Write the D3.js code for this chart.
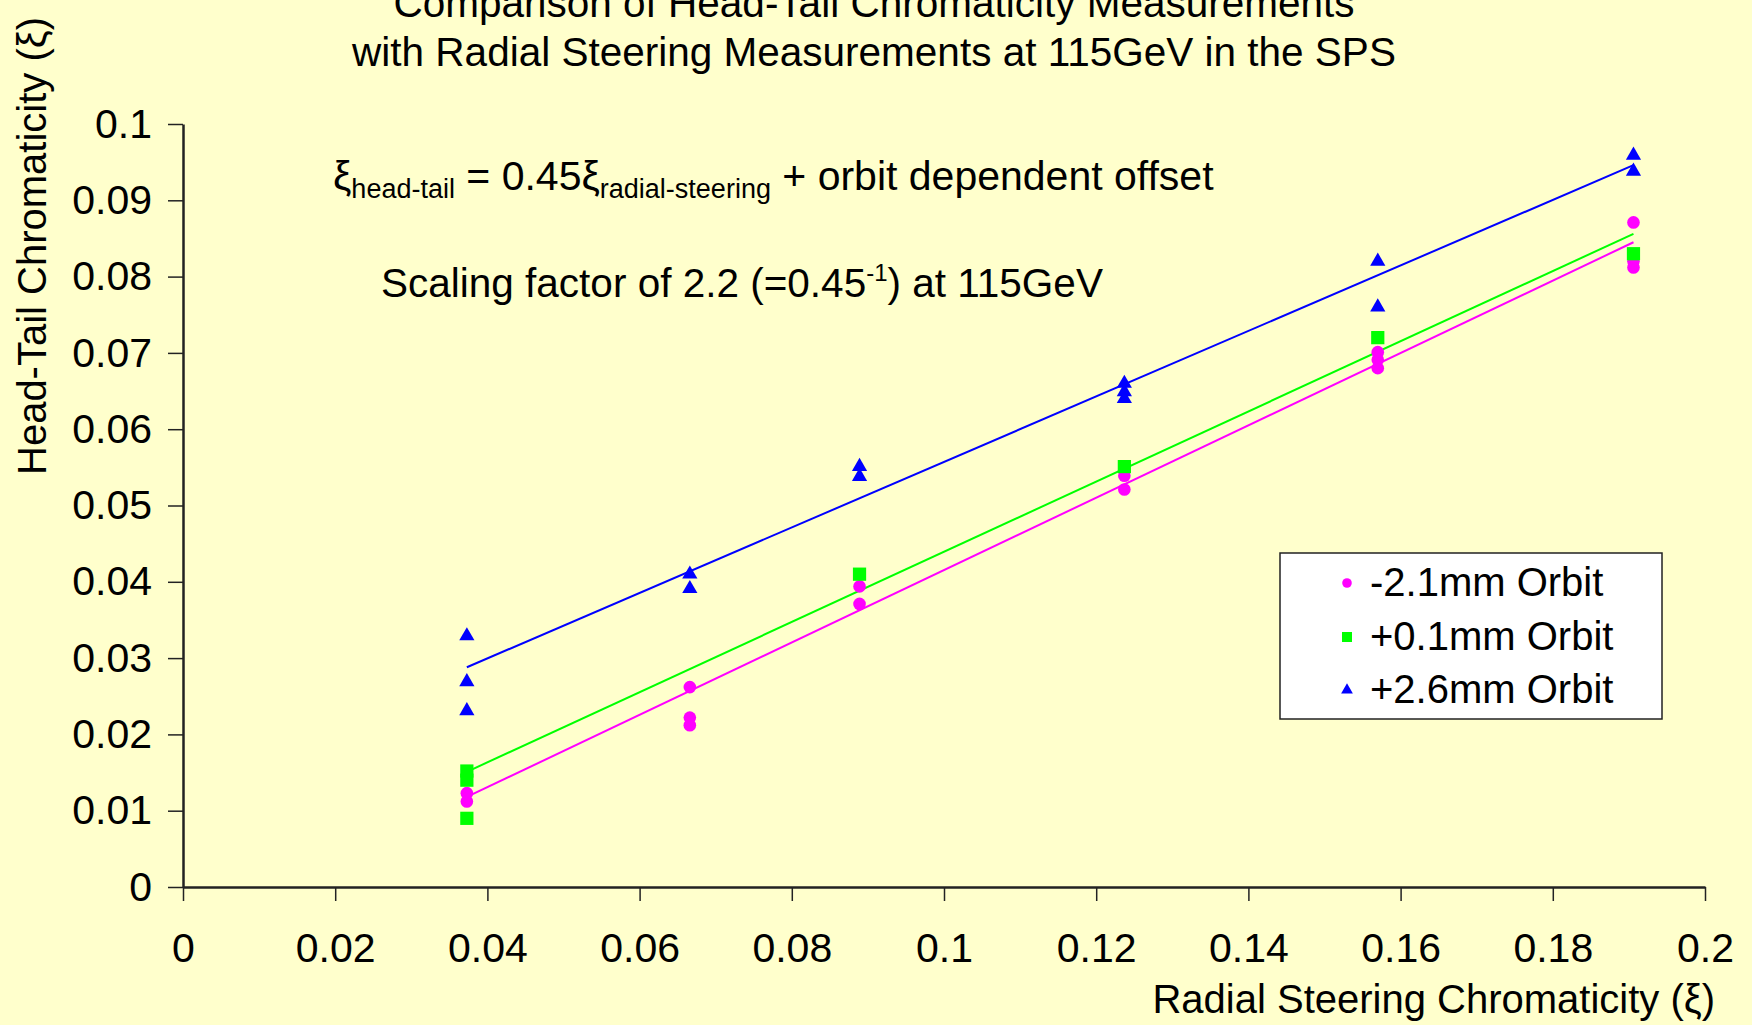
<!DOCTYPE html>
<html>
<head>
<meta charset="utf-8">
<script src="https://cdn.jsdelivr.net/npm/d3@7"></script>
<style>
  body { margin: 0; background: #ffffcc; }
  svg { display: block; font-family: "Liberation Sans", Arial, sans-serif; }
</style>
</head>
<body>
<div id="chart"></div>
<script>
// series: -2.1mm orbit (magenta circles)
var minusX = [0.0373, 0.0373, 0.0666, 0.0666, 0.0666, 0.0889, 0.0889, 0.1237, 0.1237, 0.157, 0.157, 0.157, 0.1906, 0.1906, 0.1906];
var minusY = [0.0123, 0.0112, 0.0262, 0.0222, 0.0212, 0.0394, 0.0371, 0.0539, 0.0521, 0.0701, 0.0691, 0.0680, 0.0871, 0.0820, 0.0812];
// +0.1mm orbit (green squares)
var zeroX = [0.0373, 0.0373, 0.0373, 0.0889, 0.1237, 0.157, 0.1906];
var zeroY = [0.0152, 0.0140, 0.0090, 0.0410, 0.0551, 0.0720, 0.0830];
// +2.6mm orbit (blue triangles)
var plusX = [0.0373, 0.0373, 0.0373, 0.0666, 0.0666, 0.0889, 0.0889, 0.1237, 0.1237, 0.1237, 0.157, 0.157, 0.1906, 0.1906];
var plusY = [0.0329, 0.0269, 0.0231, 0.0410, 0.0391, 0.0551, 0.0538, 0.0660, 0.0649, 0.0640, 0.0820, 0.0760, 0.0959, 0.0938];

var seriesNames = ["-2.1mm Orbit", "+0.1mm Orbit", "+2.6mm Orbit"];
// linear fits: value at the first and last x
var fitStart = [0.0118, 0.0151, 0.0288];
var fitEnd = [0.0845, 0.0856, 0.0946];

var xTicks = [0, 0.02, 0.04, 0.06, 0.08, 0.1, 0.12, 0.14, 0.16, 0.18, 0.2];
var yTicks = [0, 0.01, 0.02, 0.03, 0.04, 0.05, 0.06, 0.07, 0.08, 0.09, 0.1];

var width = 1752, height = 1025;
var colors = ["#ff00ff", "#00ff00", "#0000ff"];
var shapes = [d3.symbolCircle, d3.symbolSquare, d3.symbolTriangle];
var sizes = [125, 175, 100];
var legendSizes = [72, 100, 60];

var svg = d3.select("#chart").append("svg")
    .attr("width", width).attr("height", height);

svg.append("rect").attr("width", width).attr("height", height).attr("fill", "#ffffcc");

var x = d3.scaleLinear().domain([0, 0.2]).range([183, 1705]);
var y = d3.scaleLinear().domain([0, 0.1]).range([887, 124]);

// title (top line runs off the top edge, as in the original slide)
svg.append("text").attr("x", 874).attr("y", 17).attr("text-anchor", "middle")
    .attr("font-size", "40.5px").text("Comparison of Head-Tail Chromaticity Measurements");
svg.append("text").attr("x", 874).attr("y", 66).attr("text-anchor", "middle")
    .attr("font-size", "40.5px").text("with Radial Steering Measurements at 115GeV in the SPS");

// axes
var xAxis = svg.append("g").attr("transform", "translate(0," + y(0) + ")")
    .call(d3.axisBottom(x).tickValues(xTicks).tickSize(14).tickSizeOuter(0).tickPadding(32)
      .tickFormat(function(d){ return d3.format("")(+d.toFixed(2)); }));
var yAxis = svg.append("g").attr("transform", "translate(" + x(0) + ",0)")
    .call(d3.axisLeft(y).tickValues(yTicks).tickSize(15).tickSizeOuter(0).tickPadding(16)
      .tickFormat(function(d){ return d3.format("")(+d.toFixed(2)); }));

[xAxis, yAxis].forEach(function(a) {
  a.select(".domain").attr("stroke", "#222").attr("stroke-width", 2.5);
  a.selectAll(".tick line").attr("stroke", "#222").attr("stroke-width", 1.5);
  a.selectAll(".tick text").attr("font-size", "41px").attr("fill", "#000")
    .attr("font-family", "Liberation Sans, Arial, sans-serif");
});

// axis titles
svg.append("text").attr("x", 1715).attr("y", 1013).attr("text-anchor", "end")
    .attr("font-size", "40px").text("Radial Steering Chromaticity (ξ)");
svg.append("text").attr("transform", "translate(46,475) rotate(-90)")
    .attr("font-size", "40px").text("Head-Tail Chromaticity (ξ)");

// annotations
var eq = svg.append("text").attr("x", 333).attr("y", 190).attr("font-size", "41px");
eq.append("tspan").text("ξ");
eq.append("tspan").attr("font-size", "27px").attr("dy", 8).text("head-tail");
eq.append("tspan").attr("dy", -8).text(" = 0.45ξ");
eq.append("tspan").attr("font-size", "27px").attr("dy", 8).text("radial-steering");
eq.append("tspan").attr("dy", -8).text(" + orbit dependent offset");

var sc = svg.append("text").attr("x", 381).attr("y", 297).attr("font-size", "40.5px");
sc.append("tspan").text("Scaling factor of 2.2 (=0.45");
sc.append("tspan").attr("font-size", "24px").attr("dy", -16).text("-1");
sc.append("tspan").attr("dy", 16).text(") at 115GeV");

var xs = [minusX, zeroX, plusX];
var ys = [minusY, zeroY, plusY];

// fit lines
xs.forEach(function(xv, i) {
  var x0 = d3.min(xv), x1 = d3.max(xv);
  svg.append("line")
    .attr("x1", x(x0)).attr("y1", y(fitStart[i]))
    .attr("x2", x(x1)).attr("y2", y(fitEnd[i]))
    .attr("stroke", colors[i]).attr("stroke-width", 2);
});

// points
xs.forEach(function(xv, i) {
  svg.append("g").selectAll("path")
    .data(xv)
    .enter()
    .append("path")
    .attr("d", d3.symbol().type(shapes[i]).size(sizes[i]))
    .attr("transform", function(d, j){ return "translate(" + x(d) + "," + y(ys[i][j]) + ")"; })
    .attr("fill", colors[i]);
});

// legend
var legend = svg.append("g");
legend.append("rect").attr("x", 1280).attr("y", 553).attr("width", 382).attr("height", 166)
  .attr("fill", "#fff").attr("stroke", "#222").attr("stroke-width", 1.5);
var rowY = [583, 637, 690];
seriesNames.forEach(function(name, i) {
  legend.append("path")
    .attr("d", d3.symbol().type(shapes[i]).size(legendSizes[i]))
    .attr("transform", "translate(1347," + rowY[i] + ")")
    .attr("fill", colors[i]);
  legend.append("text").attr("x", 1370).attr("y", rowY[i] + 13)
    .attr("font-size", "40px").text(name);
});
</script>
</body>
</html>
